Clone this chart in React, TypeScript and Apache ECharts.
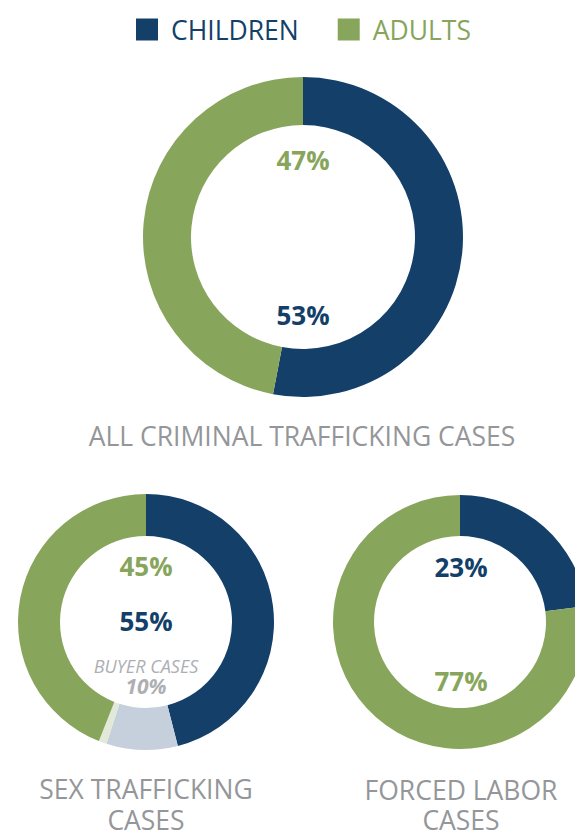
import React, { useEffect, useRef } from "react";
import * as echarts from "echarts";

// ---- data ----
const categories = ["CHILDREN", "ADULTS"];
const allCases = [53, 47]; // children, adults (%)
const sexTrafficking = [55, 45]; // children, adults (%)
const sexBuyerSplit = [9, 1]; // buyer cases: children part, adults part (%)
const buyerCasesTotal = 10;
const forcedLabor = [23, 77]; // children, adults (%)
const allTitle = ["ALL CRIMINAL TRAFFICKING CASES"];
const sexTitle = ["SEX TRAFFICKING", "CASES"];
const laborTitle = ["FORCED LABOR", "CASES"];
const buyerLabel = "BUYER CASES";

const BLUE = "#143f68";
const GREEN = "#87a55b";
const BUYER_BLUE = "#c5d0dc";
const BUYER_GREEN = "#e2e9d9";
const GRAY = "#949699";
const BUYER_TEXT = "#adafb3";
const FONT = '"Open Sans", "Noto Sans", sans-serif';

export default function App() {
  const ref = useRef<HTMLDivElement>(null);
  useEffect(() => {
    if (!ref.current) return;
    const chart = echarts.init(ref.current, null, { renderer: "svg" });
    const pieBase = {
      type: "pie",
      silent: true,
      clockwise: true,
      startAngle: 90,
      label: { show: false },
      labelLine: { show: false },
      emphasis: { disabled: true },
      itemStyle: { borderWidth: 0 },
    };
    const pct = (v: number) => `${v}%`;
    const txt = (x: number, y: number, text: string, fill: string, font: string, lh: number) => ({
      type: "text",
      x,
      y,
      silent: true,
      style: {
        text,
        fill,
        font,
        align: "center",
        verticalAlign: "middle",
        textAlign: "center",
        textVerticalAlign: "middle",
        lineHeight: lh,
      },
    });
    const titleFont = `400 26.5px ${FONT}`;
    const pctFont = `bold 26px ${FONT}`;
    chart.setOption({
      animation: false,
      legend: {
        left: 136,
        top: 16,
        padding: 0,
        icon: "rect",
        itemWidth: 22,
        itemHeight: 22,
        itemGap: 39,
        selectedMode: false,
        textStyle: { fontSize: 26.5, fontFamily: FONT, padding: [0, 0, 0, 8] },
        data: [
          { name: categories[0], textStyle: { color: BLUE } },
          { name: categories[1], textStyle: { color: GREEN } },
        ],
      },
      series: [
        {
          ...pieBase,
          center: [303, 237],
          radius: [112, 160],
          data: [
            { name: categories[0], value: allCases[0], itemStyle: { color: BLUE } },
            { name: categories[1], value: allCases[1], itemStyle: { color: GREEN } },
          ],
        },
        {
          ...pieBase,
          center: [146, 622],
          radius: [86, 128],
          data: [
            { name: categories[0], value: sexTrafficking[0] - sexBuyerSplit[0], itemStyle: { color: BLUE } },
            { name: "children buyer", value: sexBuyerSplit[0], itemStyle: { color: BUYER_BLUE } },
            { name: "adult buyer", value: sexBuyerSplit[1], itemStyle: { color: BUYER_GREEN } },
            { name: categories[1], value: sexTrafficking[1] - sexBuyerSplit[1], itemStyle: { color: GREEN } },
          ],
        },
        {
          ...pieBase,
          center: [460, 622],
          radius: [86, 127],
          data: [
            { name: categories[0], value: forcedLabor[0], itemStyle: { color: BLUE } },
            { name: categories[1], value: forcedLabor[1], itemStyle: { color: GREEN } },
          ],
        },
      ],
      graphic: [
        txt(303, 160, pct(allCases[1]), GREEN, pctFont, 28),
        txt(303, 315, pct(allCases[0]), BLUE, pctFont, 28),
        txt(302, 436, allTitle[0], GRAY, titleFont, 30),
        txt(146, 566, pct(sexTrafficking[1]), GREEN, pctFont, 28),
        txt(146, 621, pct(sexTrafficking[0]), BLUE, pctFont, 28),
        txt(146, 666, buyerLabel, BUYER_TEXT, `italic 18px ${FONT}`, 18),
        txt(146, 686, pct(buyerCasesTotal), BUYER_TEXT, `italic bold 21px ${FONT}`, 21),
        txt(146, 789, sexTitle[0], GRAY, titleFont, 30),
        txt(146, 820, sexTitle[1], GRAY, titleFont, 24),
        txt(461, 790, laborTitle[0], GRAY, titleFont, 30),
        txt(461, 820, laborTitle[1], GRAY, titleFont, 24),
        txt(461, 567, pct(forcedLabor[0]), BLUE, pctFont, 28),
        txt(461, 681, pct(forcedLabor[1]), GREEN, pctFont, 28),
      ],
    });
    return () => chart.dispose();
  }, []);
  return (
    <div
      ref={ref}
      style={{ position: "absolute", left: 0, top: 0, width: 575, height: 832, background: "#fff" }}
    />
  );
}
